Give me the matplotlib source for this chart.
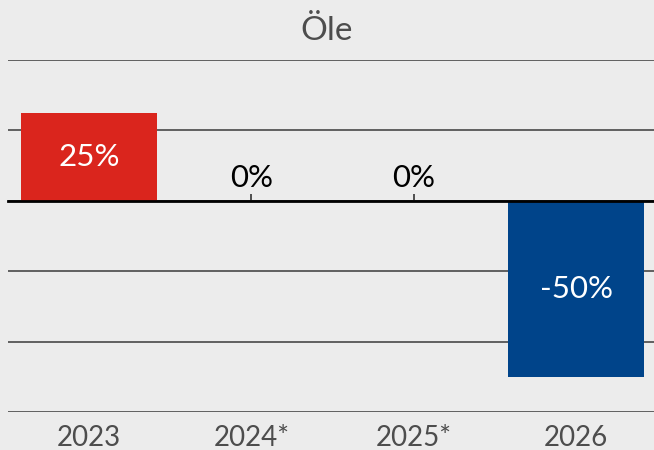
import matplotlib
matplotlib.use("Agg")
import matplotlib.pyplot as plt
import numpy as np

years = ["2023", "2024*", "2025*", "2026"]
changes = [25, 0, 0, -50]
bar_colors = ["#da251d", "#da251d", "#da251d", "#00448a"]

bg = "#ececec"
plt.rcParams["font.family"] = ["Lato", "DejaVu Sans"]

fig = plt.figure(figsize=(6.54, 4.5), dpi=100, facecolor=bg)
ax = fig.add_axes([7.8 / 654, 1 - 412 / 450, 649.4 / 654, 352 / 450], facecolor=bg)

x = np.arange(len(years))
bars = ax.bar(x, changes, width=0.84, color=bar_colors, zorder=3)

ax.set_xlim(-0.5, len(years) - 0.5)
ax.set_ylim(-60, 40)
ax.set_yticks(np.arange(-60, 41, 20))
ax.yaxis.grid(True, color="#555555", linewidth=1.3, zorder=1)
ax.tick_params(axis="y", length=0, labelleft=False)
for side in ["top", "left", "right"]:
    ax.spines[side].set_visible(False)

# zero line, with small upward ticks where there is no bar
ax.spines["bottom"].set_position(("data", 0))
ax.spines["bottom"].set_color("black")
ax.spines["bottom"].set_linewidth(2)
ax.spines["bottom"].set_zorder(4)
ax.set_axisbelow(True)
ax.set_xticks([xi for xi, v in zip(x, changes) if v == 0])
ax.tick_params(axis="x", direction="in", length=5, width=1.2, color="#333333",
               labelbottom=False)

# category labels below the plot
sec = ax.secondary_xaxis(0.0)
sec.set_xticks(x, years)
sec.tick_params(length=0, pad=9, labelsize=20, labelcolor="#4d4d4d")
sec.spines["bottom"].set_visible(False)

for xi, v in zip(x, changes):
    if v == 0:
        ax.text(xi, 2.4, f"{v}%", ha="center", va="bottom", fontsize=22.5,
                color="black", zorder=5)
    else:
        ax.text(xi, v / 2, f"{v}%", ha="center", va="center", fontsize=22.5,
                color="white", zorder=5)

fig.text(0.5, 1 - 31 / 450, "Öle", ha="center", va="center", fontsize=24,
         color="#4d4d4d")

fig.savefig("out.png", dpi=100, facecolor=bg)
